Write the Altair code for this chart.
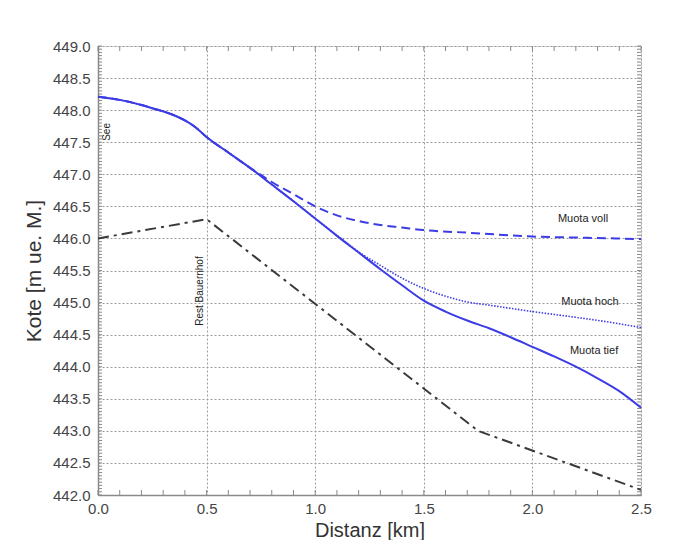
import altair as alt
import pandas as pd

# ---- data ----
tief_x = [0.0, 0.1, 0.2, 0.25, 0.35, 0.4, 0.45, 0.5, 0.6, 0.7, 0.8, 0.9, 1.0, 1.1, 1.2, 1.3, 1.4, 1.5, 1.6, 1.7, 1.8, 1.9, 2.0, 2.1, 2.2, 2.3, 2.4, 2.5]
tief_y = [448.21, 448.16, 448.08, 448.03, 447.92, 447.84, 447.73, 447.58, 447.34, 447.10, 446.84, 446.58, 446.31, 446.04, 445.78, 445.52, 445.27, 445.03, 444.86, 444.72, 444.60, 444.46, 444.31, 444.16, 444.00, 443.82, 443.62, 443.36]

voll_x = [0.0, 0.1, 0.2, 0.25, 0.35, 0.4, 0.45, 0.5, 0.6, 0.7, 0.75, 0.8, 0.9, 1.0, 1.1, 1.2, 1.3, 1.4, 1.5, 1.7, 2.0, 2.25, 2.5]
voll_y = [448.21, 448.16, 448.08, 448.03, 447.92, 447.84, 447.73, 447.58, 447.34, 447.10, 446.99, 446.88, 446.69, 446.50, 446.36, 446.27, 446.21, 446.17, 446.13, 446.09, 446.03, 446.01, 445.99]

hoch_x = [0.0, 0.1, 0.2, 0.25, 0.35, 0.4, 0.45, 0.5, 0.6, 0.7, 0.8, 0.9, 1.0, 1.1, 1.2, 1.3, 1.4, 1.5, 1.6, 1.7, 1.8, 1.9, 2.0, 2.2, 2.4, 2.5]
hoch_y = [448.21, 448.16, 448.08, 448.03, 447.92, 447.84, 447.73, 447.58, 447.34, 447.10, 446.84, 446.58, 446.31, 446.05, 445.79, 445.58, 445.38, 445.22, 445.10, 445.01, 444.96, 444.91, 444.86, 444.77, 444.67, 444.61]

terrain_x = [0.0, 0.5, 1.75, 2.5]
terrain_y = [446.0, 446.3, 443.0, 442.08]

label_text = ["Muota voll", "Muota hoch", "Muota tief"]
label_x = [2.233, 2.265, 2.284]
label_y = [446.30, 445.01, 444.24]

vlabel_text = ["See", "Rest Bauernhof"]
vlabel_x = [0.041, 0.47]
vlabel_y = [447.66, 445.18]

x_ticks = [0.0, 0.5, 1.0, 1.5, 2.0, 2.5]
y_ticks = [442.0 + 0.5 * i for i in range(15)]
x_minor = [round(0.1 * i, 2) for i in range(26)]
y_minor = [round(442.0 + 0.05 * i, 2) for i in range(141)]

W, H = 543, 449
FONT = "Liberation Sans"
BLUE = "#3c3ce6"

xs = alt.Scale(domain=[0, 2.5], nice=False, zero=False)
ys = alt.Scale(domain=[442, 449], nice=False, zero=False)

xaxis = alt.Axis(values=x_ticks, format=".1f", title="Distanz [km]", grid=True,
                 gridDash=[2, 2], gridColor="#9a9a9a", gridWidth=1, ticks=False,
                 labelOverlap=False, labelFlush=False,
                 domainColor="#8a8a8a", domainWidth=1.5, labelFont=FONT, labelFontSize=15,
                 labelColor="#444", labelPadding=6, titleFont=FONT, titleFontSize=20,
                 titleFontWeight="normal", titleColor="#333", titlePadding=4)
yaxis = alt.Axis(values=y_ticks, format=".1f", title="Kote [m ue. M.]", grid=True,
                 gridDash=[2, 2], gridColor="#9a9a9a", gridWidth=1, ticks=False,
                 labelOverlap=False, labelFlush=False,
                 domainColor="#8a8a8a", domainWidth=1.5, labelFont=FONT, labelFontSize=15,
                 labelColor="#444", labelPadding=8, titleFont=FONT, titleFontSize=21,
                 titleFontWeight="normal", titleColor="#333", titlePadding=8)


def X(field):
    return alt.X(field, scale=xs, axis=xaxis)


def Y(field):
    return alt.Y(field, scale=ys, axis=yaxis)


df_t = pd.DataFrame({"x": tief_x, "y": tief_y})
df_v = pd.DataFrame({"x": voll_x, "y": voll_y})
df_h = pd.DataFrame({"x": hoch_x, "y": hoch_y})
df_g = pd.DataFrame({"x": terrain_x, "y": terrain_y})

terrain = alt.Chart(df_g).mark_line(color="#3a3a3a", strokeWidth=2, strokeDash=[11, 5, 3, 5]).encode(
    x=X("x:Q"), y=Y("y:Q"))
voll = alt.Chart(df_v).mark_line(color=BLUE, strokeWidth=2, strokeDash=[9, 5], interpolate="monotone").encode(
    x=X("x:Q"), y=Y("y:Q"))
hoch = alt.Chart(df_h).mark_line(color=BLUE, strokeWidth=1.6, strokeDash=[1.5, 1.5], interpolate="monotone").encode(
    x=X("x:Q"), y=Y("y:Q"))
tief = alt.Chart(df_t).mark_line(color=BLUE, strokeWidth=2, interpolate="monotone").encode(
    x=X("x:Q"), y=Y("y:Q"))

labels = alt.Chart(pd.DataFrame({"t": label_text, "x": label_x, "y": label_y})).mark_text(
    font=FONT, fontSize=11, color="#222", align="center", baseline="middle").encode(
    x=X("x:Q"), y=Y("y:Q"), text="t:N")
vlabels = alt.Chart(pd.DataFrame({"t": vlabel_text, "x": vlabel_x, "y": vlabel_y})).mark_text(
    font=FONT, fontSize=10, color="#222", align="center", baseline="middle", angle=270).encode(
    x=X("x:Q"), y=Y("y:Q"), text="t:N")

dfx = pd.DataFrame({"v": x_minor})
dfy = pd.DataFrame({"v": y_minor})
tick_style = dict(color="#8a8a8a", strokeWidth=1)
xt_bottom = alt.Chart(dfx).mark_rule(**tick_style).encode(
    x=X("v:Q"), y=alt.value(H), y2=alt.value(H - 5))
xt_top = alt.Chart(dfx).mark_rule(**tick_style).encode(
    x=X("v:Q"), y=alt.value(0), y2=alt.value(5))
yt_left = alt.Chart(dfy).mark_rule(**tick_style).encode(
    y=Y("v:Q"), x=alt.value(0), x2=alt.value(4))
yt_right = alt.Chart(dfy).mark_rule(**tick_style).encode(
    y=Y("v:Q"), x=alt.value(W), x2=alt.value(W - 4))

chart = alt.layer(xt_bottom, xt_top, yt_left, yt_right, terrain, voll, hoch, tief, labels, vlabels).properties(
    width=W, height=H, autosize="none",
    padding={"left": 90, "top": 38, "right": 26, "bottom": 45},
).configure_view(stroke="#8a8a8a", strokeWidth=1.5).configure(background="white")

chart.save("out.html", embed_options={"renderer": "svg", "actions": False})
